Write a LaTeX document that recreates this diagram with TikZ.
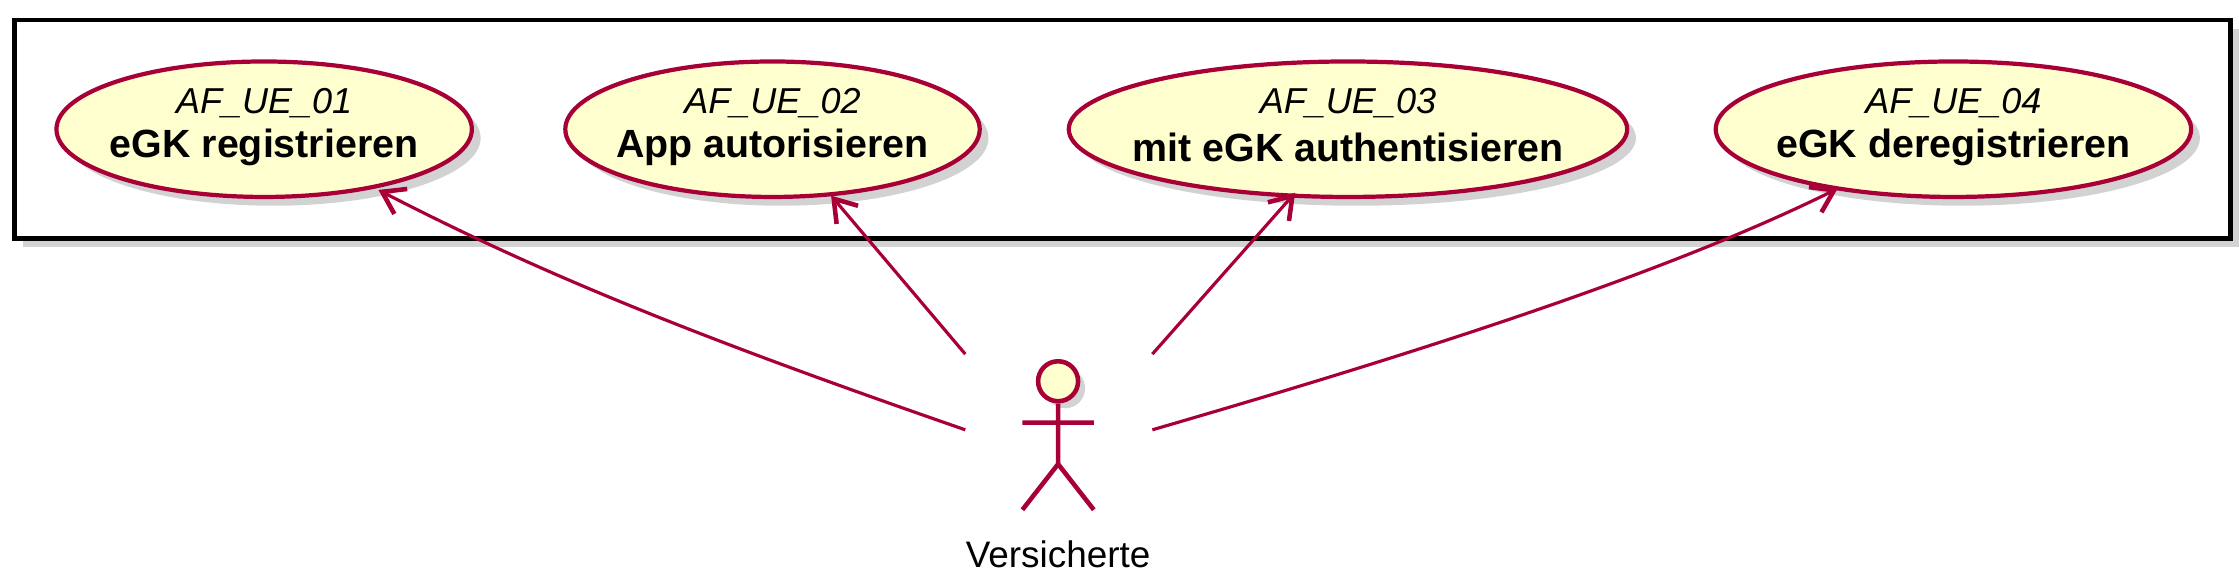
\documentclass[tikz,border=0pt]{standalone}
\usepackage{fontspec}
\setmainfont{Liberation Sans}
\usetikzlibrary{arrows.meta,shadows,shapes.geometric}
\definecolor{uf}{HTML}{FEFECE}
\definecolor{ub}{HTML}{A80036}
\begin{document}
\begin{tikzpicture}[x=0.02857cm,y=-0.02857cm,
  uc/.style={ellipse,draw=ub,fill=uf,line width=2.4pt,drop shadow={shadow xshift=5pt,shadow yshift=-5pt,opacity=0.35},inner sep=0pt,minimum height=2.71cm},
  lk/.style={draw=ub,line width=1.8pt,-{Straight Barb[length=12pt,width=16pt,line width=2.6pt]}},
  t1/.style={font=\fontsize{20.5}{24}\selectfont\itshape},
  t2/.style={font=\fontsize{22.4}{26}\selectfont\bfseries}]
\useasboundingbox (0,0) rectangle (1568,410);
\draw[line width=2.8pt,fill=white,drop shadow={shadow xshift=5pt,shadow yshift=-5pt,opacity=0.35}] (10,14) rectangle (1562,167);
\node[uc,minimum width=8.31cm] (u1) at (185,90.5) {};
\node[uc,minimum width=8.29cm] (u2) at (541,90.5) {};
\node[uc,minimum width=11.17cm] (u3) at (944,90.5) {};
\node[uc,minimum width=9.51cm] (u4) at (1368,90.5) {};
\foreach \n/\a/\b in {u1/AF\_UE\_01/eGK registrieren,u2/AF\_UE\_02/App autorisieren,u3/AF\_UE\_03/mit eGK authentisieren,u4/AF\_UE\_04/eGK deregistrieren}{
  \node[t1] (\n a) at ([yshift=0.53cm]\n.center) {\a};
  \node[t2] (\n b) at ([yshift=-0.36cm]\n.center) {\b};
}
% actor
\node[circle,draw=ub,fill=uf,line width=2.6pt,minimum size=0.8cm,inner sep=0pt,drop shadow={shadow xshift=4pt,shadow yshift=-4pt,opacity=0.35}] (head) at (741,267) {};
\draw[ub,line width=2.6pt] (head.south) -- (741,325) (716,296) -- (766,296) (716,357) -- (741,325) -- (766,357);
\node[font=\fontsize{21}{24}\selectfont] (lab) at (741,388) {Versicherte};
\coordinate (p1) at (676,301);
\coordinate (p2) at (676,248);
\coordinate (p3) at (807,248);
\coordinate (p4) at (807,301);
\coordinate (e1) at (265,133);
\coordinate (e2) at (582,137);
\coordinate (e3) at (907,135);
\coordinate (e4) at (1287,132);
\draw[lk] (p1) .. controls (500,240) and (385,195) .. (e1);
\draw[lk] (p2) -- (e2);
\draw[lk] (p3) -- (e3);
\draw[lk] (p4) .. controls (1000,245) and (1170,190) .. (e4);
\end{tikzpicture}
\end{document}
